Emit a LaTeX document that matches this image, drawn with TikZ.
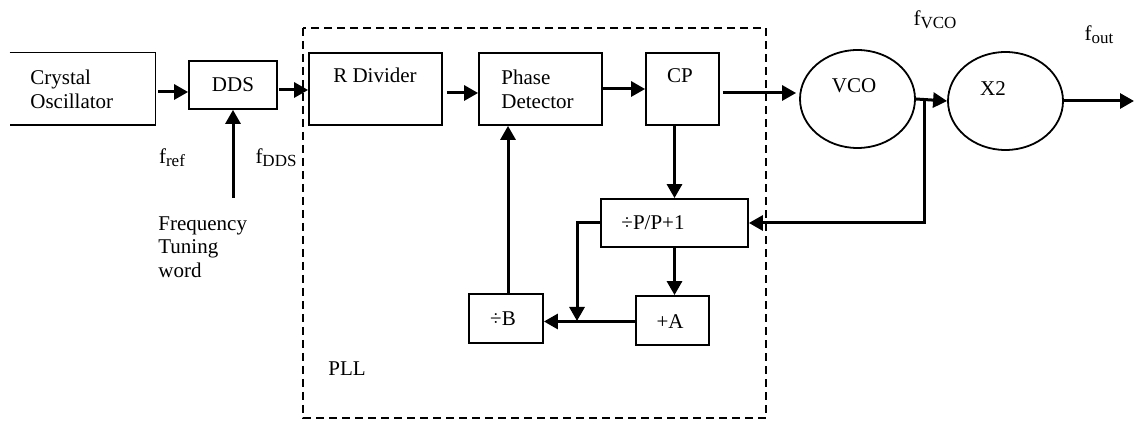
\documentclass[tikz,border=0pt]{standalone}
\usepackage{fontspec}
\setmainfont{Liberation Serif}
\usepackage{tikz}
\usetikzlibrary{arrows.meta,positioning,fit,shapes.geometric}
\newcommand{\fsig}[1]{f\raisebox{-0.35ex}{\fontsize{8.5}{9}\selectfont #1}}

\begin{document}
\begin{tikzpicture}[x=0.5pt,y=-0.5pt,
    every node/.style={font=\fontsize{10.5}{12}\selectfont},
    blk/.style={draw,line width=0.9pt,inner sep=0pt},
    ell/.style={draw,ellipse,line width=0.9pt,inner sep=0pt},
    txt/.style={anchor=west,align=left,inner xsep=0pt},
    arr/.style={line width=1.5pt,-{Triangle[length=7pt,width=7.5pt]}}]
  \useasboundingbox (0,0) rectangle (1134,421);
  % PLL boundary
  \draw[line width=0.9pt,dash pattern=on 4pt off 2.5pt] (303,28) rectangle (766,418);
  \node (pll) at (347,369) {PLL};
  % blocks
  \node[inner sep=0pt,fit={(10,53) (155,125)}] (osc) {};
  \draw[line width=0.9pt] (osc.north west) -- (osc.north east) -- (osc.south east) -- (osc.south west);
  \node[txt] (osct) at (30,89) {Crystal\\Oscillator};
  \node[blk,fit={(189,61) (277,109)}] (dds) {};
  \node (ddst) at (233,85) {DDS};
  \node[blk,fit={(309,53) (442,125)}] (rdiv) {};
  \node (rdivt) at (375,75) {R Divider};
  \node[blk,fit={(479,53) (602,125)}] (pd) {};
  \node[txt] (pdt) at (501,89) {Phase\\Detector};
  \node[blk,fit={(646,53) (719,125)}] (cp) {};
  \node (cpt) at (680,76) {CP};
  \node[ell,minimum width=57.5pt,minimum height=49pt] (vco) at (857.5,99) {};
  \node (vcot) at (854,86) {VCO};
  \node[ell,minimum width=57.5pt,minimum height=49pt] (x2) at (1005.5,101) {};
  \node (x2t) at (993,89) {X2};
  \node[blk,fit={(601,199) (748,247)}] (pdiv) {};
  \node (pdivt) at (653,223) {÷P/P+1};
  \node[blk,fit={(636,296) (709,345)}] (plusa) {};
  \node (plusat) at (670,322) {+A};
  \node[blk,fit={(469,294) (543,343)}] (divb) {};
  \node (divbt) at (503,319) {÷B};
  % free ends
  \coordinate (tap) at (924,101);
  \coordinate (out) at (1134,101);
  \coordinate (jn) at (577,321);
  \coordinate (ftwin) at (233,198);
  \coordinate (bup) at (508,294);
  % labels
  \node (fref) at (172,158) {\fsig{ref}};
  \node (fdds) at (276,158) {\fsig{DDS}};
  \node (fvco) at (935,20) {\fsig{VCO}};
  \node (fout) at (1099,35) {\fsig{out}};
  \node[txt,font=\fontsize{10.5}{11.7}\selectfont] (ftw) at (158,247) {Frequency\\Tuning\\word};
  % connections
  \draw[arr] ([shift={(3,3)}]osc.east) -- ([shift={(0,7)}]dds.west);
  \draw[arr] ([shift={(1,5)}]dds.east) -- ([shift={(0,1)}]rdiv.west);
  \draw[arr] ([shift={(4,4)}]rdiv.east) -- ([shift={(0,4)}]pd.west);
  \draw[arr] (pd.east) -- (cp.west);
  \draw[arr] ([shift={(3,4)}]cp.east) -- ([shift={(-3,-6)}]vco.west);
  \draw[arr] (vco.east) -- (x2.west);
  \draw[arr] (x2.east) -- (out);
  \draw[arr] (tap) |- (pdiv.east);
  \draw[arr] (cp.south -| pdiv.north) -- (pdiv.north);
  \draw[arr] (pdiv.south) -- (plusa.north -| pdiv.south);
  \draw[arr] ([shift={(0,1)}]plusa.west) -- ([shift={(0,3)}]divb.east);
  \draw[arr] (pdiv.west) -| (jn);
  \draw[arr] (bup) -- (pd.south -| bup);
  \draw[arr] (ftwin) -- (dds.south);
\end{tikzpicture}
\end{document}
